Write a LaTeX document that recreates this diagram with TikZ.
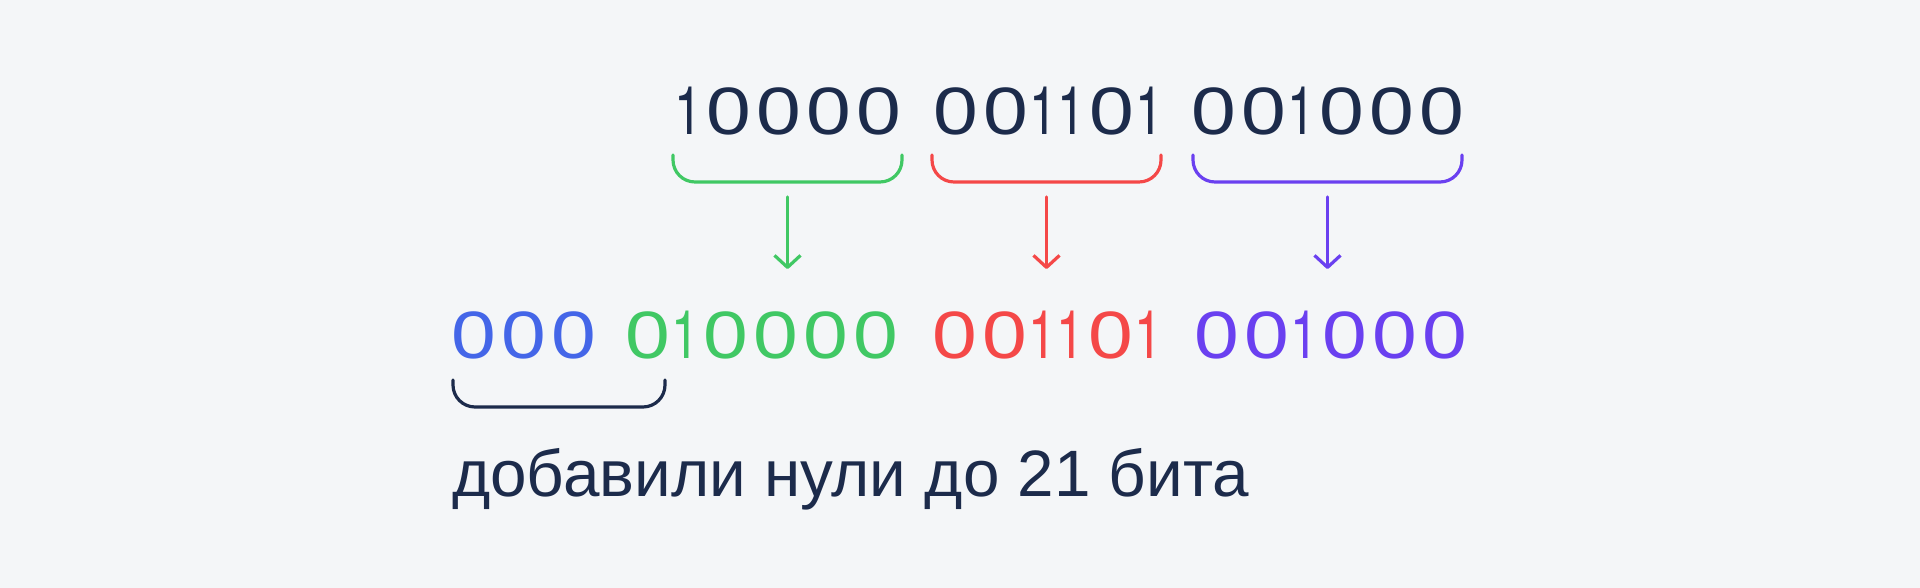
\documentclass[tikz,border=0pt]{standalone}
\usepackage{fontspec}
\setmainfont{Liberation Sans}
\newfontfamily\zfont[FakeStretch=1.2]{Liberation Sans}
\newfontfamily\ofont[FakeStretch=0.75]{TeX Gyre Heros}
\usetikzlibrary{arrows.meta}
\definecolor{bg}{HTML}{F4F6F8}
\definecolor{navy}{HTML}{1C2B4B}
\definecolor{grn}{HTML}{40C864}
\definecolor{rd}{HTML}{F44848}
\definecolor{prp}{HTML}{6A40F0}
\definecolor{blu}{HTML}{4466E8}
% digits: round zero, narrow one
\newcommand\zbit{{\zfont 0}\kern5.3pt}
\newcommand\obit{\kern-4pt{\ofont 1}\kern4pt}
\tikzset{
  bits/.style={inner sep=0pt, anchor=base west, font=\fontsize{67}{67}\selectfont},
  brace/.style={line width=3.2pt, rounded corners=22pt, line cap=round},
  down/.style={line width=3.2pt, line cap=round, -{Straight Barb[length=12pt,width=26pt,line join=round]}},
}
\begin{document}
\begin{tikzpicture}[x=1pt,y=1pt]
  \fill[bg] (0,0) rectangle (1920,588);
  % upper row
  \node[bits, text=navy] (hi) at (678.6,453) {\obit\zbit\zbit\zbit\zbit};
  \node[bits, text=navy] (mid) at (933.6,453) {\zbit\zbit\obit\obit\zbit\obit};
  \node[bits, text=navy] (lo) at (1191.6,453) {\zbit\zbit\obit\zbit\zbit\zbit};
  \draw[brace, grn] (673,433) -- (673,406) -- (902,406) -- (902,433);
  \draw[brace, rd] (932,433) -- (932,406) -- (1161,406) -- (1161,433);
  \draw[brace, prp] (1193,433) -- (1193,406) -- (1462,406) -- (1462,433);
  \coordinate (hiS) at (787.5,391);
  \coordinate (hiE) at (787.5,319);
  \coordinate (midS) at (1046.5,391);
  \coordinate (midE) at (1046.5,319);
  \coordinate (loS) at (1327.5,391);
  \coordinate (loE) at (1327.5,319);
  \draw[down, grn] (hiS) -- (hiE);
  \draw[down, rd] (midS) -- (midE);
  \draw[down, prp] (loS) -- (loE);
  % lower row
  \node[bits, text=blu] (pad) at (451.5,229) {\zbit\zbit\zbit};
  \node[bits, text=grn] (hi21) at (625.6,229) {\zbit\obit\zbit\zbit\zbit\zbit};
  \node[bits, text=rd] (mid21) at (932.6,229) {\zbit\zbit\obit\obit\zbit\obit};
  \node[bits, text=prp] (lo21) at (1194.6,229) {\zbit\zbit\obit\zbit\zbit\zbit};
  \draw[brace, navy] (453,208) -- (453,181) -- (665,181) -- (665,208);
  \node[inner sep=0pt, anchor=base west, text=navy, font=\fontsize{65.6}{66}\selectfont] (note) at (452,91) {добавили нули до 21 бита};
\end{tikzpicture}
\end{document}
